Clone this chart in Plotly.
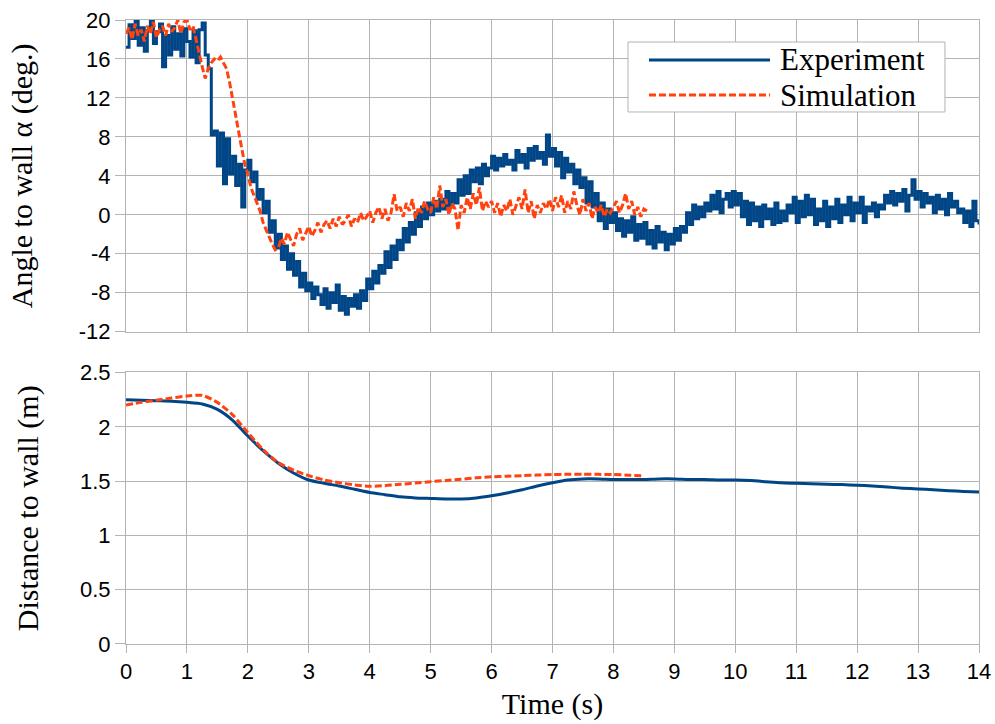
import plotly.graph_objects as go

# ---------------- data ----------------
# Angle to wall, experiment, sampled every 0.05 s from 0 to 14 s
angle_exp = [
    17.2, 19.5, 18.1, 20.0, 17.4, 19.2, 16.8, 18.9, 20.0, 17.6, 18.8, 19.6, 15.2, 18.4, 16.4, 19.3, 17.0, 18.6, 16.3, 19.1,
    17.8, 16.2, 18.9, 15.6, 19.0, 19.7, 16.4, 15.0, 8.2, 8.6, 5.0, 8.4, 3.2, 7.8, 4.2, 6.0, 3.0, 5.2, 0.8, 4.6,
    5.6, 3.4, 4.4, 1.6, 2.6, 0.2, 1.4, -1.8, -0.6, -3.4, -2.0, -4.6, -3.2, -5.6, -4.0, -6.2, -4.8, -7.4, -6.0, -7.8,
    -7.0, -8.6, -7.4, -8.2, -9.2, -7.6, -9.6, -8.0, -9.0, -7.2, -9.8, -8.4, -10.2, -8.6, -9.4, -8.2, -9.6, -7.8, -8.8, -6.6,
    -7.6, -5.8, -7.0, -5.2, -6.0, -3.8, -5.4, -3.2, -4.6, -2.6, -3.6, -1.4, -2.8, -0.8, -2.0, 0.2, -1.2, 0.8, -0.4, 1.2,
    0.0, 1.4, 0.4, 1.6, 0.6, 2.4, 0.8, 2.2, 1.2, 3.6, 2.0, 4.0, 2.2, 4.6, 3.4, 4.8, 3.2, 5.2, 4.0, 4.8,
    6.0, 4.6, 5.8, 5.0, 6.2, 5.2, 5.6, 4.6, 6.6, 5.4, 6.2, 4.8, 6.8, 5.6, 7.0, 5.8, 6.4, 5.2, 8.2, 6.0,
    6.8, 5.0, 6.4, 3.8, 5.8, 4.4, 5.2, 3.2, 4.6, 2.8, 3.8, 1.2, 3.4, 0.8, 2.2, -0.6, 1.2, -1.4, 0.6, -0.8,
    0.2, -1.6, -0.4, -2.2, -0.6, -1.8, -0.2, -2.6, -1.0, -2.4, -0.8, -3.0, -1.6, -3.4, -1.2, -2.8, -1.8, -3.6, -2.0, -3.0,
    -1.4, -2.6, -1.2, -1.8, 0.2, -1.0, 1.0, -0.4, 0.8, -0.2, 1.2, 0.4, 2.0, 0.6, 2.4, 0.2, 1.6, 2.2, 0.8, 2.4,
    1.0, 2.2, -0.2, 1.4, -1.0, 1.2, -0.6, 0.8, -1.2, 1.0, -0.4, 0.6, -1.0, 1.2, -0.8, 0.4, -0.6, 1.0, 0.2, 1.8,
    -0.8, 1.4, -0.2, 2.0, 0.0, 1.6, -1.0, 0.6, -0.6, 1.4, -1.2, 0.8, -0.4, 1.6, -0.8, 1.0, 0.0, 1.8, -0.6, 1.2,
    0.2, 1.8, -0.8, 0.8, 0.4, 1.2, -0.2, 1.0, 0.6, 2.0, 1.2, 2.4, 1.0, 2.2, 1.4, 2.6, 0.4, 2.0, 3.6, 1.6,
    2.4, 0.8, 2.2, 1.2, 1.8, 0.2, 2.0, 0.6, 1.6, 0.0, 2.2, 0.8, 1.4, 0.2, 0.6, -0.8, 0.4, -1.2, 1.4, -0.6,
    -1.0,
]

# Angle to wall, simulation, sampled every 0.05 s from 0 to 8.55 s
angle_sim = [
    18.6, 19.2, 18.0, 19.6, 18.4, 19.0, 17.8, 19.4, 18.6, 19.8, 18.2, 19.0, 19.4, 18.4, 19.6, 18.8, 19.2, 20.0, 18.6, 19.8,
    20.0, 19.0, 19.4, 18.0, 16.4, 15.2, 14.0, 15.0, 15.6, 16.0, 15.8, 16.2, 15.6, 15.0, 13.6, 11.8, 10.0, 8.4, 6.8, 5.2,
    4.2, 2.8, 2.0, 1.0, 0.4, -0.8, -1.6, -2.4, -3.0, -3.6, -3.4, -2.4, -3.0, -1.8, -2.6, -3.2, -2.0, -1.4, -2.6, -1.8,
    -1.2, -2.2, -1.6, -0.8, -1.8, -1.0, -0.6, -1.4, -0.4, -1.2, -0.2, -1.0, -0.6, 0.0, -1.2, -0.4, -0.8, 0.2, -0.6, -0.2,
    0.4, -0.8, 0.2, 0.8, -0.4, 0.6, -0.6, 0.2, 2.1, 0.4, 0.8, -0.2, 1.2, 0.4, 1.6, -0.4, 0.8, 0.2, 1.4, 0.6,
    0.2, 1.8, 0.6, 3.0, 0.8, 1.6, 0.0, 1.2, 0.6, -1.6, 1.0, 0.2, 1.8, 0.6, 2.2, 1.0, 2.8, 0.4, 1.4, 0.8,
    1.4, 0.2, 1.2, -0.2, 1.0, 0.4, 1.6, 0.0, 0.8, 1.8, 0.6, 2.6, 0.2, 1.4, -0.4, 1.0, 0.2, 1.2, 0.6, 1.6,
    0.4, 1.8, 0.8, 2.0, 0.2, 1.4, 0.6, 2.4, 1.0, 0.0, 1.6, 0.4, 1.2, -0.4, 0.8, 0.2, 1.0, -0.2, 0.6, 0.2,
    0.8, 1.4, 0.2, 1.0, 2.2, 0.6, 1.4, 0.0, 0.8, -0.2, 0.6, 0.4,
]

# Distance to wall, experiment, every 0.25 s from 0 to 14 s
dist_exp = [
    2.25, 2.245, 2.24, 2.235, 2.225, 2.21, 2.16, 2.06,
    1.915, 1.78, 1.665, 1.575, 1.51, 1.48, 1.455, 1.425,
    1.395, 1.375, 1.355, 1.345, 1.34, 1.335, 1.335, 1.345,
    1.365, 1.39, 1.42, 1.455, 1.485, 1.51, 1.52, 1.52,
    1.515, 1.515, 1.515, 1.52, 1.52, 1.515, 1.515, 1.51,
    1.51, 1.505, 1.495, 1.485, 1.48, 1.475, 1.47, 1.468,
    1.462, 1.455, 1.445, 1.435, 1.428, 1.42, 1.412, 1.405,
    1.40,
]

# Distance to wall, simulation, every 0.25 s from 0 to 8.5 s
dist_sim = [
    2.20, 2.225, 2.245, 2.265, 2.283, 2.29, 2.225, 2.11,
    1.945, 1.79, 1.67, 1.60, 1.55, 1.51, 1.485, 1.465,
    1.452, 1.458, 1.47, 1.483, 1.495, 1.505, 1.517, 1.53,
    1.54, 1.545, 1.55, 1.556, 1.56, 1.563, 1.563, 1.562,
    1.56, 1.555, 1.548,
]

ANGLE_DT = 0.05
DIST_DT = 0.25
t_angle_exp = [round(i * ANGLE_DT, 3) for i in range(len(angle_exp))]
t_angle_sim = [round(i * ANGLE_DT, 3) for i in range(len(angle_sim))]
t_dist_exp = [round(i * DIST_DT, 3) for i in range(len(dist_exp))]
t_dist_sim = [round(i * DIST_DT, 3) for i in range(len(dist_sim))]

time_ticks = list(range(0, 15))
angle_ticks = [-12, -8, -4, 0, 4, 8, 12, 16, 20]
angle_tick_labels = ["-12", "-8", "-4", "0", "4", "8", "12", "16", "20"]
dist_ticks = [0, 0.5, 1, 1.5, 2, 2.5]
dist_tick_labels = ["0", "0.5", "1", "1.5", "2", "2.5"]

series_names = ["Experiment", "Simulation"]

# ---------------- styling ----------------
BLUE = "#004586"
ORANGE = "#ff420e"
GRID = "#b3b3b3"
SANS = "Liberation Sans"
SERIF = "Liberation Serif"

fig = go.Figure()

fig.add_trace(go.Scatter(x=t_angle_exp, y=angle_exp, mode="lines", name=series_names[0],
                         line=dict(color=BLUE, width=3, shape="hv"), xaxis="x", yaxis="y"))
fig.add_trace(go.Scatter(x=t_angle_sim, y=angle_sim, mode="lines", name=series_names[1],
                         line=dict(color=ORANGE, width=3, dash="7px,3px"), xaxis="x", yaxis="y"))
fig.add_trace(go.Scatter(x=t_dist_exp, y=dist_exp, mode="lines", name=series_names[0],
                         line=dict(color=BLUE, width=3, shape="spline", smoothing=0.6),
                         xaxis="x2", yaxis="y2", showlegend=False))
fig.add_trace(go.Scatter(x=t_dist_sim, y=dist_sim, mode="lines", name=series_names[1],
                         line=dict(color=ORANGE, width=3, dash="7px,3px", shape="spline", smoothing=0.6),
                         xaxis="x2", yaxis="y2", showlegend=False))

common_axis = dict(showgrid=True, gridcolor=GRID, gridwidth=1, zeroline=False, automargin=False,
                   showline=True, linecolor=GRID, linewidth=1, mirror=True)

fig.update_layout(
    width=995, height=724,
    margin=dict(l=126, r=16, t=20, b=80),
    paper_bgcolor="white", plot_bgcolor="white",
    showlegend=False,
    font=dict(family=SANS, size=22, color="black"),
    xaxis=dict(domain=[0, 1], anchor="y", range=[0, 14], tickvals=time_ticks,
               showticklabels=False, ticks="", **common_axis),
    yaxis=dict(domain=[0.5005, 1], anchor="x", range=[-12, 20], tickvals=angle_ticks,
               ticktext=angle_tick_labels, ticks="outside", ticklen=10, tickcolor=GRID,
               tickfont=dict(family=SANS, size=22),
               title=dict(text="Angle to wall α (deg.)", font=dict(family=SERIF, size=30), standoff=37),
               **common_axis),
    xaxis2=dict(domain=[0, 1], anchor="y2", range=[0, 14], tickvals=time_ticks,
                ticktext=[str(v) for v in time_ticks], ticks="outside", ticklen=8, tickcolor=GRID,
                tickfont=dict(family=SANS, size=22),
                title=dict(text="Time (s)", font=dict(family=SERIF, size=30), standoff=9),
                **common_axis),
    yaxis2=dict(domain=[0, 0.4351], anchor="x2", range=[0, 2.5], tickvals=dist_ticks,
                ticktext=dist_tick_labels, ticks="outside", ticklen=10, tickcolor=GRID,
                tickfont=dict(family=SANS, size=22),
                title=dict(text="Distance to wall (m)", font=dict(family=SERIF, size=30), standoff=32),
                **common_axis),
)

# ---------------- legend (drawn to match the long line samples) ----------------
fig.add_shape(type="rect", xref="paper", yref="paper", x0=0.5885, x1=0.9601, y0=0.8526, y1=0.9647,
              line=dict(color=GRID, width=1), fillcolor="white", layer="above")
fig.add_shape(type="line", xref="paper", yref="paper", x0=0.6131, x1=0.755, y0=0.9359, y1=0.9359,
              line=dict(color=BLUE, width=3), layer="above")
fig.add_shape(type="line", xref="paper", yref="paper", x0=0.6131, x1=0.755, y0=0.8798, y1=0.8798,
              line=dict(color=ORANGE, width=3, dash="7px,3px"), layer="above")
fig.add_annotation(xref="paper", yref="paper", x=0.7644, y=0.9359, text=series_names[0],
                   xanchor="left", yanchor="middle", showarrow=False,
                   font=dict(family=SERIF, size=31, color="black"))
fig.add_annotation(xref="paper", yref="paper", x=0.7644, y=0.8798, text=series_names[1],
                   xanchor="left", yanchor="middle", showarrow=False,
                   font=dict(family=SERIF, size=31, color="black"))

fig.write_html("out.html")
